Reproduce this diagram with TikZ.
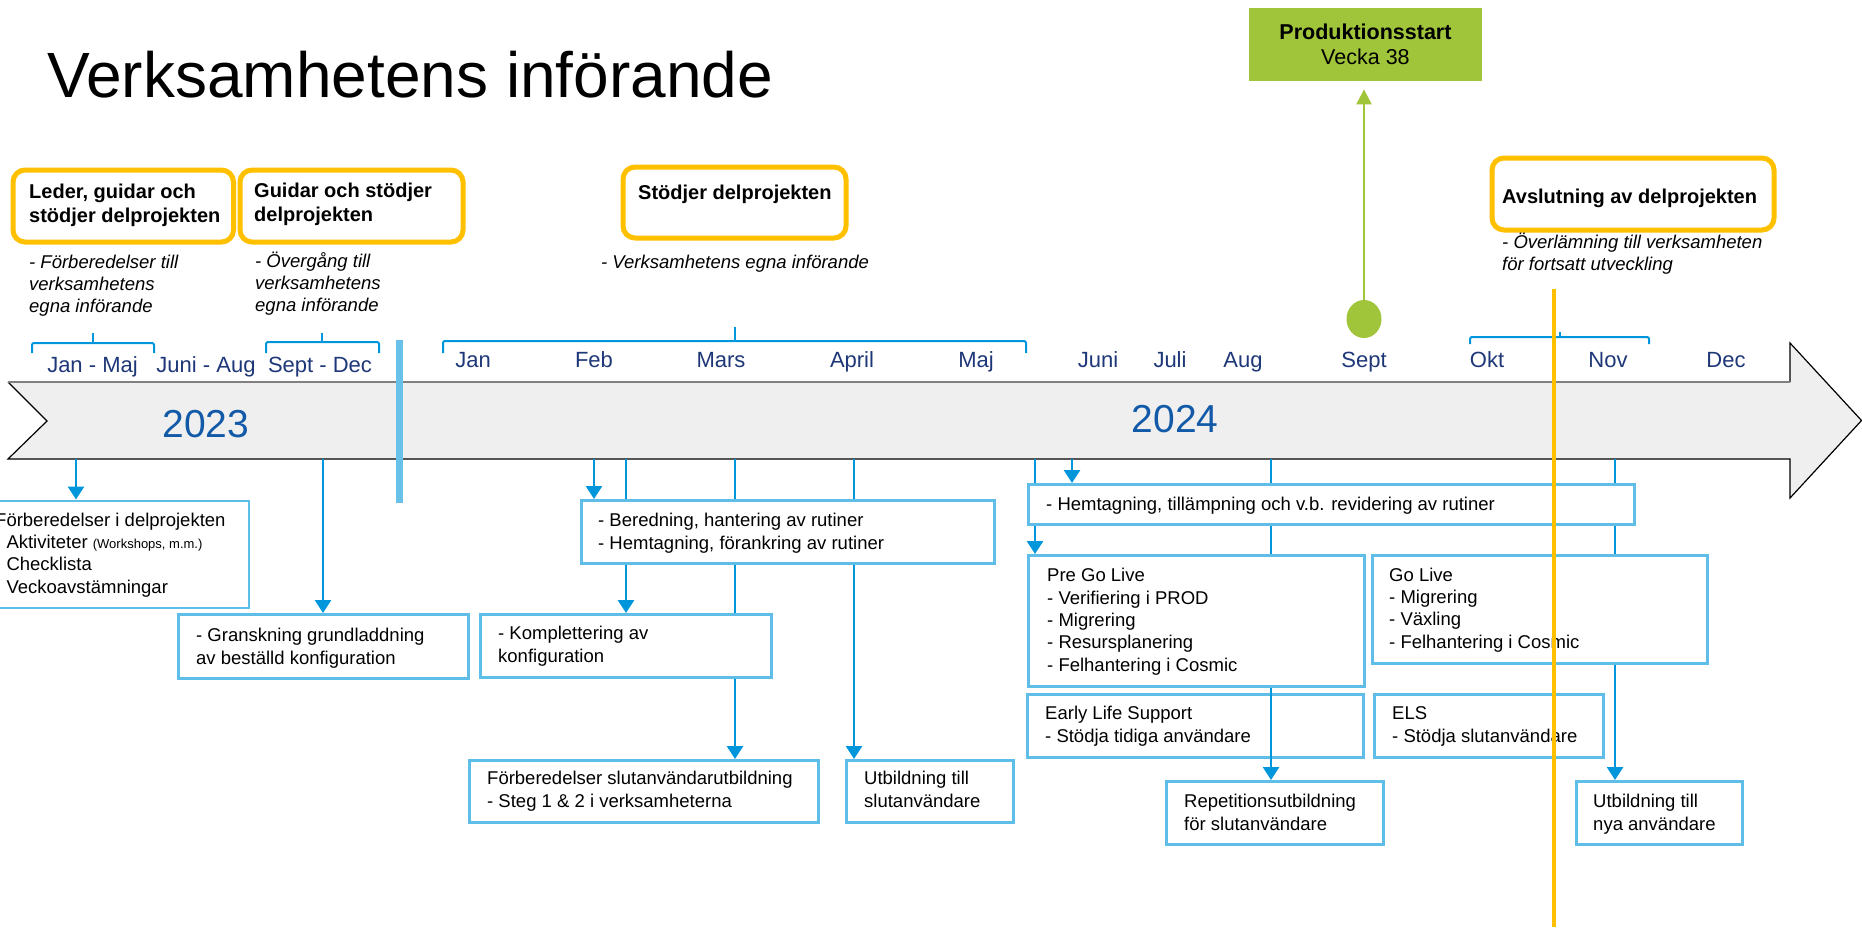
\documentclass[tikz,border=0pt]{standalone}
\usepackage{fontspec}
\setmainfont{Liberation Sans}
\usetikzlibrary{arrows.meta,shapes.geometric}
\definecolor{arrblue}{RGB}{0,150,220}
\definecolor{boxblue}{RGB}{95,190,232}
\definecolor{barblue}{RGB}{105,192,232}
\definecolor{navy}{RGB}{30,55,120}
\definecolor{yearblue}{RGB}{18,90,168}
\definecolor{orng}{RGB}{255,192,0}
\definecolor{grn}{RGB}{160,196,58}
\definecolor{bodygray}{RGB}{239,239,239}
\begin{document}
\begin{tikzpicture}[x=1pt,y=-1pt,
  bbox/.style={draw=boxblue, line width=2.5pt, fill=white, inner sep=0pt, anchor=north west},
  obox/.style={draw=orng, line width=5pt, rounded corners=12pt, fill=white, inner sep=0pt, anchor=north west},
  body/.style={anchor=base west, align=left, inner sep=0pt, font=\fontsize{18.5}{22.3}\selectfont},
  ital/.style={anchor=base west, align=left, inner sep=0pt, font=\fontsize{18.5}{22}\selectfont\itshape},
  head/.style={anchor=base west, align=left, inner sep=0pt, font=\fontsize{20}{24}\selectfont\bfseries},
  month/.style={anchor=base, inner sep=0pt, text=navy, font=\fontsize{22}{26}\selectfont},
  year/.style={anchor=base, inner sep=0pt, text=yearblue, font=\fontsize{39}{46}\selectfont},
  conn/.style={draw=arrblue, line width=2.7pt},
  arr/.style={conn, -{Triangle[width=16pt,length=13pt]}},
  brace/.style={draw=arrblue, line width=2pt, rounded corners=2pt}]
\useasboundingbox (0,0) rectangle (1862,927);
\fill[white] (0,0) rectangle (1862,927);

% title
\node[anchor=base west, inner sep=0pt, font=\fontsize{64}{77}\selectfont] (title) at (47,97) {Verksamhetens införande};

% timeline body
\fill[bodygray] (8,382) -- (1790,382) -- (1790,343) -- (1862,420.5) -- (1790,498) -- (1790,459) -- (8,459) -- (47,421) -- cycle;
\draw[black, line width=1.2pt] (1790,382) -- (1790,343) -- (1861.5,420.5) -- (1790,498) -- (1790,459) -- (8,459) -- (47,421) -- (8,382);
\draw[black!50, line width=2pt] (8,382) -- (1790,382);

% year separator bar
\coordinate (bar1) at (399.5,340);
\coordinate (bar2) at (399.5,503);
\draw[barblue, line width=7pt] (bar1) -- (bar2);

% years
\node[year] (y2023) at (206,437) {2023};
\node[year] (y2024) at (1175,432) {2024};

% braces
\draw[brace] (32,353) -- (32,343) -- (154,343) -- (154,353);
\draw[brace] (93,343) -- (93,333);
\draw[brace] (266,353) -- (266,342) -- (379,342) -- (379,353);
\draw[brace] (322,342) -- (322,333);
\draw[brace] (443,353) -- (443,341) -- (1026,341) -- (1026,353);
\draw[brace] (735,341) -- (735,327);
\draw[brace] (1470,344) -- (1470,337) -- (1649,337) -- (1649,344);
\draw[brace] (1560,337) -- (1560,332);

% months 2023
\node[month] (m1) at (92.5,372) {Jan - Maj};
\node[month] (m2) at (206,372) {Juni - Aug};
\node[month] (m3) at (320,372) {Sept - Dec};
% months 2024
\node[month] (n1) at (473,367) {Jan};
\node[month] (n2) at (594,367) {Feb};
\node[month] (n3) at (721,367) {Mars};
\node[month] (n4) at (852,367) {April};
\node[month] (n5) at (976,367) {Maj};
\node[month] (n6) at (1098,367) {Juni};
\node[month] (n7) at (1170,367) {Juli};
\node[month] (n8) at (1243,367) {Aug};
\node[month] (n9) at (1364,367) {Sept};
\node[month] (n10) at (1487,367) {Okt};
\node[month] (n11) at (1608,367) {Nov};
\node[month] (n12) at (1726,367) {Dec};

% orange phase boxes
\node[obox, minimum width=220.5pt, minimum height=72pt] (ob1) at (10.5,167.5) {};
\node[obox, minimum width=223pt, minimum height=72pt] (ob2) at (237.5,167.5) {};
\node[obox, minimum width=223pt, minimum height=71pt] (ob3) at (620.5,164.5) {};
\node[obox, minimum width=282pt, minimum height=72pt] (ob4) at (1489.5,155.5) {};
% (multi-line nodes: base anchor = baseline of last line)
\node[head] (h1) at (29,222) {Leder, guidar och\\stödjer delprojekten};
\node[head] (h2) at (254,221) {Guidar och stödjer\\delprojekten};
\node[head] (h3) at (638,199) {Stödjer delprojekten};
\node[head] (h4) at (1502,203) {Avslutning av delprojekten};

% italic notes
\node[ital] (it1) at (29,312) {- Förberedelser till\\verksamhetens\\egna införande};
\node[ital] (it2) at (255,311) {- Övergång till\\verksamhetens\\egna införande};
\node[ital] (it3) at (601,268) {- Verksamhetens egna införande};
\node[ital] (it4) at (1502,270) {- Överlämning till verksamheten\\för fortsatt utveckling};

% production start
\node[fill=grn, inner sep=0pt, anchor=north west, minimum width=233.5pt, minimum height=73pt, align=center, font=\fontsize{21.5}{25}\selectfont] (prod) at (1248.5,8) {\textbf{Produktionsstart}\\Vecka 38};
\node[ellipse, fill=grn, inner sep=0pt, minimum width=35pt, minimum height=38pt] (circ) at (1364,319) {};
\draw[grn, line width=2.2pt, -{Triangle[width=15pt,length=15pt]}, shorten >=8pt] (circ.north) -- (circ.north |- prod.south);

% blue activity boxes
\node[bbox, minimum width=257.5pt, minimum height=107pt] (fdp) at (-10,499.5) {};
\node[bbox, minimum width=290pt, minimum height=64pt] (gra) at (177,613) {};
\node[bbox, minimum width=413pt, minimum height=63pt] (ber) at (580,499) {};
\node[bbox, minimum width=291pt, minimum height=63pt] (kom) at (479,613) {};
\node[bbox, minimum width=349pt, minimum height=62pt] (fsu) at (468,759) {};
\node[bbox, minimum width=167pt, minimum height=62pt] (uts) at (845,759) {};
\node[bbox, minimum width=606pt, minimum height=40pt] (hem) at (1027,483) {};
\node[bbox, minimum width=336pt, minimum height=131pt] (pgl) at (1027,554) {};
\node[bbox, minimum width=336pt, minimum height=63pt] (els1) at (1026,693) {};
\node[bbox, minimum width=335pt, minimum height=108pt] (gol) at (1371,554) {};
\node[bbox, minimum width=229pt, minimum height=63pt] (els2) at (1373,693) {};
\node[bbox, minimum width=217pt, minimum height=63pt] (rep) at (1165,780) {};
\node[bbox, minimum width=166pt, minimum height=63pt] (una) at (1575,780) {};

\node[body] (t-fdp) at (-5,593) {Förberedelser i delprojekten\\\hspace*{11.3pt}Aktiviteter {\fontsize{13}{15}\selectfont (Workshops, m.m.)}\\\hspace*{11.3pt}Checklista\\\hspace*{11.3pt}Veckoavstämningar};
\node[body] (t-gra) at (196,664) {- Granskning grundladdning\\av beställd konfiguration};
\node[body] (t-ber) at (598,549) {- Beredning, hantering av rutiner\\- Hemtagning, förankring av rutiner};
\node[body] (t-kom) at (498,662) {- Komplettering av\\konfiguration};
\node[body] (t-fsu) at (487,807) {Förberedelser slutanvändarutbildning\\- Steg 1 \& 2 i verksamheterna};
\node[body] (t-uts) at (864,807) {Utbildning till\\slutanvändare};
\node[body] (t-hem) at (1046,510) {- Hemtagning, tillämpning och v.b. revidering av rutiner};
\node[body] (t-pgl) at (1047,671) {Pre Go Live\\- Verifiering i PROD\\- Migrering\\- Resursplanering\\- Felhantering i Cosmic};
\node[body] (t-els1) at (1045,742) {Early Life Support\\- Stödja tidiga användare};
\node[body] (t-gol) at (1389,648) {Go Live\\- Migrering\\- Växling\\- Felhantering i Cosmic};
\node[body] (t-els2) at (1392,742) {ELS\\- Stödja slutanvändare};
\node[body] (t-rep) at (1184,830) {Repetitionsutbildning\\för slutanvändare};
\node[body] (t-una) at (1593,830) {Utbildning till\\nya användare};

% connectors from the timeline
\coordinate (a1) at (76,459);
\coordinate (a2) at (323,459);
\coordinate (a3) at (594,459);
\coordinate (a4) at (626,459);
\coordinate (a5) at (735,459);
\coordinate (a6) at (854,459);
\coordinate (a7) at (1035,459);
\coordinate (a8) at (1072,459);
\coordinate (a9) at (1271,459);
\coordinate (a10) at (1615,459);
\draw[arr] (a1) -- (a1 |- fdp.north);
\draw[arr] (a2) -- (a2 |- gra.north);
\draw[arr] (a3) -- (a3 |- ber.north);
\draw[conn] (a4) -- (a4 |- ber.north);
\draw[arr] (a4 |- ber.south) -- (a4 |- kom.north);
\draw[conn] (a5) -- (a5 |- ber.north);
\draw[conn] (a5 |- ber.south) -- (a5 |- kom.north);
\draw[arr] (a5 |- kom.south) -- (a5 |- fsu.north);
\draw[conn] (a6) -- (a6 |- ber.north);
\draw[arr] (a6 |- ber.south) -- (a6 |- uts.north);
\draw[conn] (a7) -- (a7 |- hem.north);
\draw[arr] (a7 |- hem.south) -- (a7 |- pgl.north);
\draw[arr] (a8) -- (a8 |- hem.north);
\draw[conn] (a9) -- (a9 |- hem.north);
\draw[conn] (a9 |- hem.south) -- (a9 |- pgl.north);
\draw[arr] (a9 |- pgl.south) -- (a9 |- rep.north);
\draw[conn] (a10) -- (a10 |- hem.north);
\draw[conn] (a10 |- hem.south) -- (a10 |- gol.north);
\draw[arr] (a10 |- gol.south) -- (a10 |- una.north);

% orange marker line
\coordinate (o1) at (1554,289);
\coordinate (o2) at (1554,927);
\draw[orng, line width=4pt] (o1) -- (o2);
\end{tikzpicture}
\end{document}
